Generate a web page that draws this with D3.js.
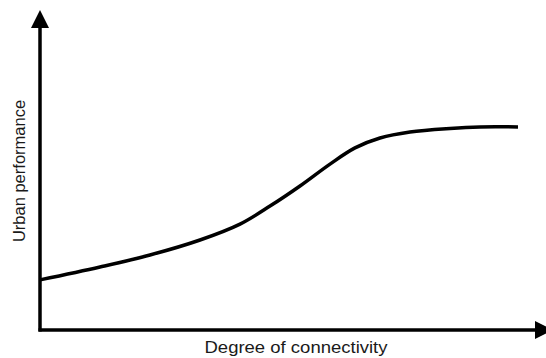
<!DOCTYPE html>
<html>
<head>
<meta charset="utf-8">
<script src="https://cdn.jsdelivr.net/npm/d3@7"></script>
<style>
  html, body { margin: 0; padding: 0; background: #fff; }
  svg { display: block; }
</style>
</head>
<body>
<svg id="chart" width="546" height="358"></svg>
<script>
// Degree of connectivity (x) vs urban performance (y)
const connectivity = [0, 12, 22, 32, 40, 46, 52, 58, 63, 68, 74, 82, 88, 95.6];
const performance  = [16.7, 21, 25, 30, 35.3, 41.3, 48, 55.3, 60.7, 64, 66, 67.2, 67.7, 67.7];
const axisLabels = { x: 'Degree of connectivity', y: 'Urban performance' };

const svg = d3.select('#chart');
const left = 40, bottom = 330;

const x = d3.scaleLinear().domain([0, 100]).range([left, 540]);
const y = d3.scaleLinear().domain([0, 100]).range([bottom, 30]);

// arrow heads
svg.append('defs').append('marker')
  .attr('id', 'arrow')
  .attr('viewBox', '0 0 18 18')
  .attr('refX', 0).attr('refY', 9)
  .attr('markerWidth', 18).attr('markerHeight', 18)
  .attr('markerUnits', 'userSpaceOnUse')
  .attr('orient', 'auto')
  .append('path')
  .attr('d', 'M0,0 L18,9 L0,18 Z')
  .attr('fill', '#000');

// axes
svg.append('line')
  .attr('x1', left).attr('y1', bottom + 1.5)
  .attr('x2', left).attr('y2', 28)
  .attr('stroke', '#000').attr('stroke-width', 3.5)
  .attr('marker-end', 'url(#arrow)');

svg.append('line')
  .attr('x1', left - 1.5).attr('y1', bottom)
  .attr('x2', 535).attr('y2', bottom)
  .attr('stroke', '#000').attr('stroke-width', 3.5)
  .attr('marker-end', 'url(#arrow)');

// curve
const pts = connectivity.map((c, i) => [c, performance[i]]);
const line = d3.line()
  .x(d => x(d[0]))
  .y(d => y(d[1]))
  .curve(d3.curveCatmullRom.alpha(0.5));

svg.append('path')
  .datum(pts)
  .attr('d', line)
  .attr('fill', 'none')
  .attr('stroke', '#000')
  .attr('stroke-width', 3.5);

// labels
svg.append('text')
  .attr('x', 296).attr('y', 353)
  .attr('text-anchor', 'middle')
  .attr('font-family', 'Liberation Sans, Arial, sans-serif')
  .attr('font-size', 16.5)
  .attr('textLength', 183)
  .attr('lengthAdjust', 'spacingAndGlyphs')
  .attr('fill', '#1a1a1a')
  .text(axisLabels.x);

svg.append('text')
  .attr('transform', 'translate(25,171) rotate(-90)')
  .attr('text-anchor', 'middle')
  .attr('font-family', 'Liberation Sans, Arial, sans-serif')
  .attr('font-size', 16.5)
  .attr('fill', '#1a1a1a')
  .text(axisLabels.y);
</script>
</body>
</html>
